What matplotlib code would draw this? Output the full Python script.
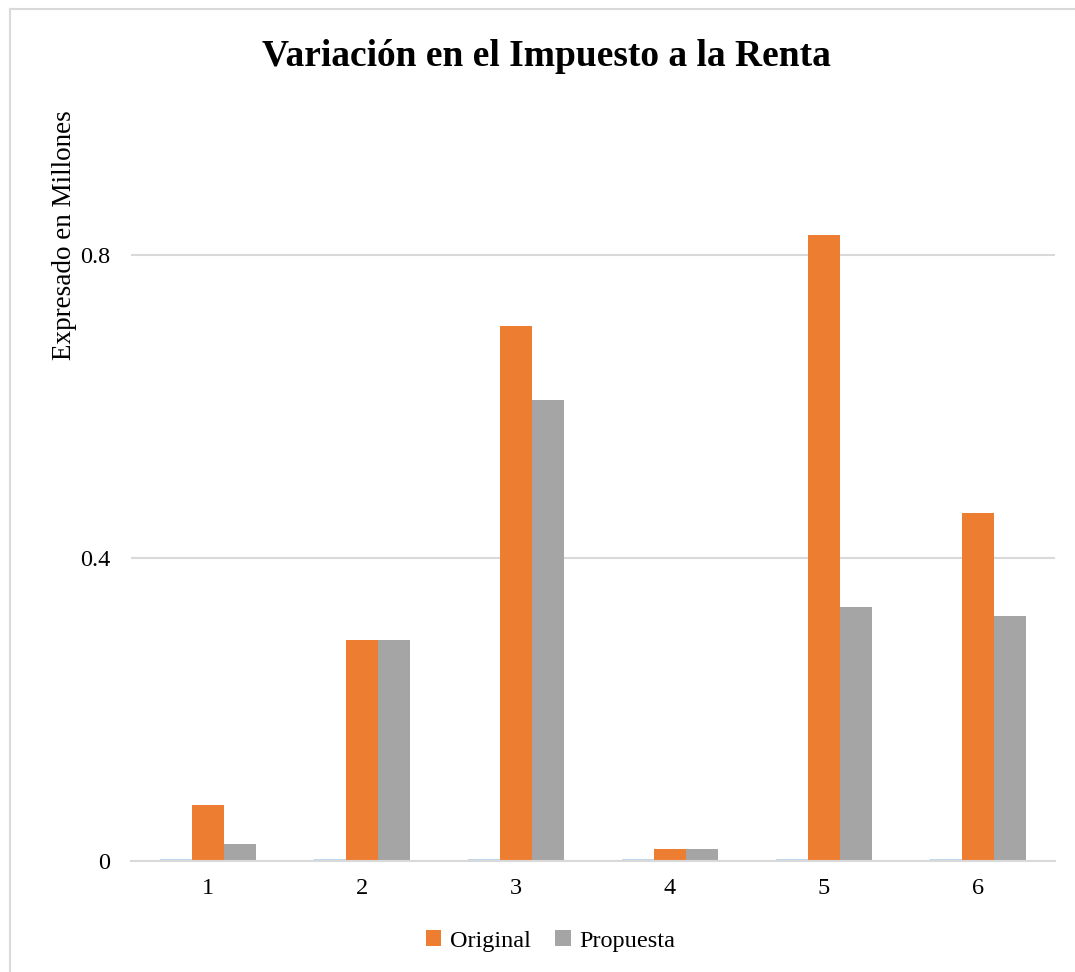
import matplotlib
matplotlib.use('Agg')
import matplotlib.pyplot as plt
import numpy as np
from matplotlib.lines import Line2D

plt.rcParams['font.family'] = ['Liberation Serif', 'DejaVu Serif']

# datos
grupos = ['1', '2', '3', '4', '5', '6']
serie_base = [0.002, 0.002, 0.002, 0.002, 0.002, 0.002]   # serie casi nula (sin leyenda)
original = [0.074, 0.292, 0.706, 0.016, 0.826, 0.459]
propuesta = [0.022, 0.292, 0.609, 0.016, 0.335, 0.323]
y_ticks = [0, 0.4, 0.8]
y_tick_labels = ['0', '0.4', '0.8']

fig = plt.figure(figsize=(10.75, 9.72), dpi=100)
ax = fig.add_axes([0.1219, 0.1142, 0.8595, 0.7793])

x = np.arange(len(grupos))
w = 0.208
ax.bar(x - w, serie_base, w, color='#bdd7ee')
ax.bar(x, original, w, color='#ed7d31', label='Original')
ax.bar(x + w, propuesta, w, color='#a5a5a5', label='Propuesta')

ax.set_xlim(-0.5, len(grupos) - 0.5)
ax.set_ylim(0, 1.0)
ax.set_yticks(y_ticks)
ax.set_yticklabels(y_tick_labels)
ax.set_xticks(x)
ax.set_xticklabels(grupos)
ax.tick_params(axis='both', length=0, labelsize=17.5, colors='#000000')
ax.tick_params(axis='y', pad=15)
ax.tick_params(axis='x', pad=12)
ax.yaxis.grid(True, color='#d9d9d9', linewidth=1.5)
ax.set_axisbelow(True)
for s in ['top', 'right', 'left']:
    ax.spines[s].set_visible(False)
ax.spines['bottom'].set_color('#d9d9d9')
ax.spines['bottom'].set_linewidth(1.5)

ax.set_ylabel('Expresado en Millones', fontsize=19.5)
ax.yaxis.set_label_coords(-0.058, 0.826)

fig.suptitle('Variación en el Impuesto a la Renta', fontsize=27, fontweight='bold', x=0.508, y=0.96)

fig.legend(loc='center', bbox_to_anchor=(0.512, 0.032), ncol=2, frameon=False,
           fontsize=17.5, handlelength=0.65, handleheight=0.65, columnspacing=1.0, handletextpad=0.35)

# marco del grafico (solo visible arriba e izquierda)
fig.add_artist(Line2D([0.009, 0.009], [0, 0.991], color='#d9d9d9', lw=1.5, transform=fig.transFigure))
fig.add_artist(Line2D([0.009, 1], [0.991, 0.991], color='#d9d9d9', lw=1.5, transform=fig.transFigure))

plt.savefig('out.png', dpi=100)
plt.close()
